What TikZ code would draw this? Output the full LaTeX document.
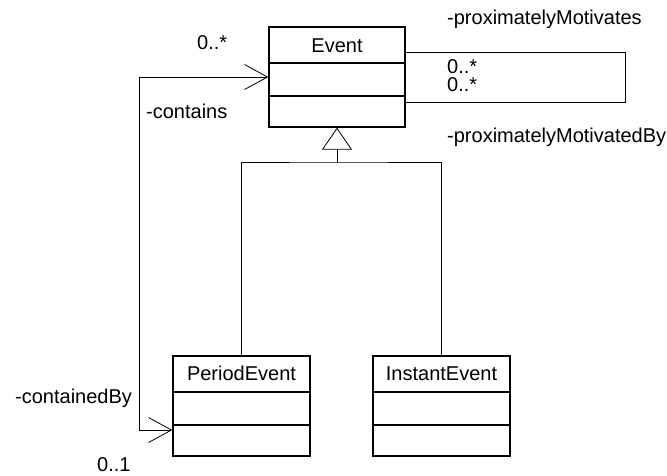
\documentclass[tikz,border=0pt]{standalone}
\usepackage{fontspec}
\setmainfont{Liberation Sans}
\usetikzlibrary{arrows.meta}
\tikzset{
  umlbox/.style={draw, line width=1.3pt, minimum width=136pt, minimum height=100pt, inner sep=0pt},
  divider/.style={line width=1.3pt},
  conn/.style={line width=0.8pt},
  lbl/.style={anchor=base west, inner sep=0pt, font=\fontsize{20}{24}\selectfont},
  cname/.style={anchor=base, inner sep=0pt, font=\fontsize{20}{24}\selectfont},
  barb/.style={-{Straight Barb[length=23pt,width=25pt]}},
  dbarb/.style={{Straight Barb[length=23pt,width=25pt]}-{Straight Barb[length=23pt,width=25pt]}},
  gen/.style={-{Triangle[open,length=22pt,width=30pt]}}
}
\begin{document}
\begin{tikzpicture}[x=1pt,y=-1pt]
\useasboundingbox[fill=white] (0,0) rectangle (667,475);
% classes
\node[umlbox] (event) at (337,77) {};
\node[cname] (eventname) at (337,52) {Event};
\draw[divider] (269,63) -- (405,63);
\draw[divider] (269,96) -- (405,96);

\node[umlbox, minimum width=137pt] (period) at (241.5,406) {};
\node[cname] (periodname) at (241.5,380) {PeriodEvent};
\draw[divider] (173,392) -- (310,392);
\draw[divider] (173,425) -- (310,425);

\node[umlbox, minimum width=137pt] (instant) at (441.5,406) {};
\node[cname] (instantname) at (441.5,380) {InstantEvent};
\draw[divider] (373,392) -- (510,392);
\draw[divider] (373,425) -- (510,425);

% generalization
\coordinate (gj) at (337,162);
\draw[conn] (period.north) |- (gj) -| (instant.north);
\draw[conn, gen] (gj) -- (event.south);

% self association
\draw[conn] ([yshift=25pt]event.east) -- ++(220,0) -- ++(0,50) -- ([yshift=-25pt]event.east);

% containment
\draw[conn, dbarb] (event.west) -- ++(-129,0) |- ([yshift=-24pt]period.west);

% labels
\node[lbl] (m1) at (197,49.3) {0..*};
\node[lbl] (r1) at (447,24) {-proximatelyMotivates};
\node[lbl] (m2) at (447,73.3) {0..*};
\node[lbl] (m3) at (447,91.7) {0..*};
\node[lbl] (r2) at (447,142.5) {-proximatelyMotivatedBy};
\node[lbl] (r3) at (146,118.3) {-contains};
\node[lbl] (r4) at (15,403.3) {-containedBy};
\node[lbl] (m4) at (97,471.7) {0..1};
\end{tikzpicture}
\end{document}
